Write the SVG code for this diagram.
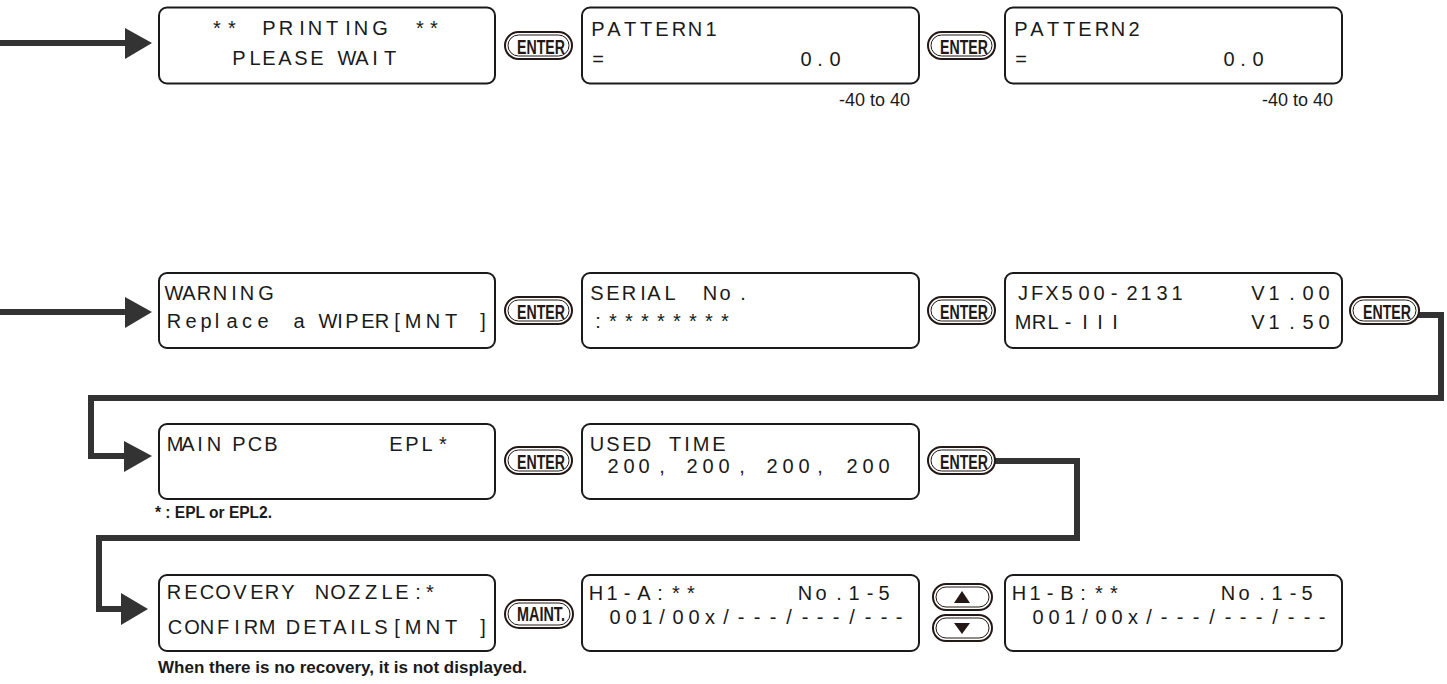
<svg xmlns="http://www.w3.org/2000/svg" width="1447" height="684" viewBox="0 0 1447 684">
<defs>
<style>
.box{fill:#fff;stroke:#1a1a1a;stroke-width:2}
.lcd{font-family:"Liberation Sans Narrow","Liberation Sans",Arial,sans-serif;font-size:20px;fill:#1a1a1a;text-anchor:middle}
.rng{font-family:"Liberation Sans Narrow","Liberation Sans",Arial,sans-serif;font-size:18px;fill:#1a1a1a;text-anchor:end}
.note{font-family:"Liberation Sans Narrow","Liberation Sans",Arial,sans-serif;font-size:16px;font-weight:bold;fill:#1a1a1a}
.bo{fill:#fff;stroke:#231815;stroke-width:2}
.bi{fill:none;stroke:#231815;stroke-width:1}
.bt{font-family:"Liberation Sans Narrow","Liberation Sans",Arial,sans-serif;font-size:21px;font-weight:bold;fill:#231815;text-anchor:middle}
.tri{fill:#231815}
.conn{fill:none;stroke:#333;stroke-width:6}
.head{fill:#333}
</style>
</defs>
<rect width="1447" height="684" fill="#fff"/>

<g id="connectors">
<path class="conn" d="M0,43 H128"/>
<polygon class="head" points="125,28 152,43 125,59"/>
<path class="conn" d="M0,312 H128"/>
<polygon class="head" points="125,297 152,312 125,328"/>
<path class="conn" d="M1418,315 H1441 V398 H91 V456 H128"/>
<polygon class="head" points="124,441 152,456 124,472"/>
<path class="conn" d="M995,461 H1077 V538 H99 V609 H124"/>
<polygon class="head" points="121,593 148,609 121,625"/>
</g>

<!-- Row 1 -->
<g id="n-printing">
<rect class="box" x="159" y="7.5" width="336" height="76" rx="8"/>
<text class="lcd" xml:space="preserve" y="35" x="217 232 250 269 286 302 315 332 348 361 380 400 420 434">** PRINTING **</text>
<text class="lcd" xml:space="preserve" y="65" x="239 255 269 285 301 317 332 347 362 375 390">PLEASE WAIT</text>
</g>
<g id="btn-enter-1" transform="translate(505,32)">
<rect class="bo" x="0" y="0" width="67" height="27" rx="13.5"/>
<rect class="bi" x="3" y="3" width="61" height="21" rx="10.5"/>
<text class="bt" x="36" y="22" textLength="48" lengthAdjust="spacingAndGlyphs">ENTER</text>
</g>
<g id="n-pattern1">
<rect class="box" x="582" y="7.5" width="337" height="76" rx="8"/>
<text class="lcd" y="36" x="598 614 630 646 662 679 695 711">PATTERN1</text>
<text class="lcd" xml:space="preserve" y="66" x="598 700 806 820 835">= 0.0</text>
<text class="rng" x="910" y="106">-40 to 40</text>
</g>
<g id="btn-enter-2" transform="translate(928,32)">
<rect class="bo" x="0" y="0" width="67" height="27" rx="13.5"/>
<rect class="bi" x="3" y="3" width="61" height="21" rx="10.5"/>
<text class="bt" x="36" y="22" textLength="48" lengthAdjust="spacingAndGlyphs">ENTER</text>
</g>
<g id="n-pattern2">
<rect class="box" x="1005" y="7.5" width="337" height="76" rx="8"/>
<text class="lcd" y="36" x="1021 1037 1053 1069 1085 1102 1118 1134">PATTERN2</text>
<text class="lcd" xml:space="preserve" y="66" x="1021 1123 1229 1243 1258">= 0.0</text>
<text class="rng" x="1333" y="106">-40 to 40</text>
</g>

<!-- Row 2 -->
<g id="n-warning">
<rect class="box" x="159" y="273" width="336" height="75" rx="8"/>
<text class="lcd" y="300" x="174 189 204 220 234 247 266">WARNING</text>
<text class="lcd" xml:space="preserve" y="328" x="174 191 206 217 232 247 263 281 299 313 328 340 352 368 382 397 413 433 451 483">Replace a WIPER[MNT]</text>
</g>
<g id="btn-enter-3" transform="translate(505,297)">
<rect class="bo" x="0" y="0" width="67" height="27" rx="13.5"/>
<rect class="bi" x="3" y="3" width="61" height="21" rx="10.5"/>
<text class="bt" x="36" y="22" textLength="48" lengthAdjust="spacingAndGlyphs">ENTER</text>
</g>
<g id="n-serial">
<rect class="box" x="582" y="273" width="337" height="75" rx="8"/>
<text class="lcd" xml:space="preserve" y="300" x="597 613 629 643 654 670 690 710 725 743">SERIAL No.</text>
<text class="lcd" y="328" x="598 613 629 645 661 677 693 709 725">:********</text>
</g>
<g id="btn-enter-4" transform="translate(928,297)">
<rect class="bo" x="0" y="0" width="67" height="27" rx="13.5"/>
<rect class="bi" x="3" y="3" width="61" height="21" rx="10.5"/>
<text class="bt" x="36" y="22" textLength="48" lengthAdjust="spacingAndGlyphs">ENTER</text>
</g>
<g id="n-version">
<rect class="box" x="1005" y="273" width="337" height="75" rx="8"/>
<text class="lcd" xml:space="preserve" y="300" x="1023 1037 1052 1067 1084 1099 1114 1132 1146 1162 1177 1215 1258 1274 1292 1308 1324">JFX500-2131 V1.00</text>
<text class="lcd" xml:space="preserve" y="329" x="1023 1039 1053 1068 1085 1100 1115 1190 1258 1274 1292 1308 1324">MRL-III V1.50</text>
</g>
<g id="btn-enter-5" transform="translate(1350,297)">
<rect class="bo" x="0" y="0" width="69" height="27" rx="13.5"/>
<rect class="bi" x="3" y="3" width="63" height="21" rx="10.5"/>
<text class="bt" x="37" y="22" textLength="48" lengthAdjust="spacingAndGlyphs">ENTER</text>
</g>

<!-- Row 3 -->
<g id="n-mainpcb">
<rect class="box" x="159" y="424" width="336" height="75" rx="8"/>
<text class="lcd" xml:space="preserve" y="451" x="175 188 200 214 227 239 255 271 330 396 412 427 443">MAIN PCB EPL*</text>
<text class="note" x="155" y="518" textLength="117" lengthAdjust="spacingAndGlyphs">* : EPL or EPL2.</text>
</g>
<g id="btn-enter-6" transform="translate(505,447)">
<rect class="bo" x="0" y="0" width="67" height="27" rx="13.5"/>
<rect class="bi" x="3" y="3" width="61" height="21" rx="10.5"/>
<text class="bt" x="36" y="22" textLength="48" lengthAdjust="spacingAndGlyphs">ENTER</text>
</g>
<g id="n-usedtime">
<rect class="box" x="582" y="424" width="337" height="75" rx="8"/>
<text class="lcd" xml:space="preserve" y="451" x="597 613 629 644 660 675 687 701 719">USED TIME</text>
<text class="lcd" xml:space="preserve" y="473" x="613 629 644 662 677 692 708 724 742 757 772 788 804 820 836 852 868 884">200, 200, 200, 200</text>
</g>
<g id="btn-enter-7" transform="translate(928,447)">
<rect class="bo" x="0" y="0" width="67" height="27" rx="13.5"/>
<rect class="bi" x="3" y="3" width="61" height="21" rx="10.5"/>
<text class="bt" x="36" y="22" textLength="48" lengthAdjust="spacingAndGlyphs">ENTER</text>
</g>

<!-- Row 4 -->
<g id="n-recovery">
<rect class="box" x="159" y="575" width="336" height="76" rx="8"/>
<text class="lcd" xml:space="preserve" y="599" x="174 191 207 223 240 257 272 288 305 322 338 354 371 387 402 418 430">RECOVERY NOZZLE:*</text>
<text class="lcd" xml:space="preserve" y="634" x="175 192 207 223 237 251 267 280 293 310 325 340 353 365 381 397 413 433 451 483">CONFIRM DETAILS[MNT]</text>
<text class="note" x="158" y="673" textLength="369" lengthAdjust="spacingAndGlyphs">When there is no recovery, it is not displayed.</text>
</g>
<g id="btn-maint" transform="translate(505,600)">
<rect class="bo" x="0" y="0" width="68" height="28" rx="14"/>
<rect class="bi" x="3" y="3" width="62" height="22" rx="11"/>
<text class="bt" x="36" y="21" font-size="18" textLength="48" lengthAdjust="spacingAndGlyphs">MAINT.</text>
</g>
<g id="n-h1a">
<rect class="box" x="582" y="575" width="337" height="76" rx="8"/>
<text class="lcd" xml:space="preserve" y="600" x="596 612 627 644 660 676 691 747 805 821 839 854 870 884">H1-A:** No.1-5</text>
<text class="lcd" y="624" x="615 631 647 662 678 694 710 726 741 757 773 789 805 820 836 852 868 884 899">001/00x/---/---/---</text>
</g>
<g id="btn-updown">
<rect class="bo" x="933" y="584" width="59" height="26" rx="13"/>
<rect class="bi" x="936" y="587" width="53" height="20" rx="10"/>
<polygon class="tri" points="962,591 970,603 954,603"/>
<rect class="bo" x="933" y="615" width="59" height="26" rx="13"/>
<rect class="bi" x="936" y="618" width="53" height="20" rx="10"/>
<polygon class="tri" points="954,623 970,623 962,634"/>
</g>
<g id="n-h1b">
<rect class="box" x="1005" y="575" width="337" height="76" rx="8"/>
<text class="lcd" xml:space="preserve" y="600" x="1019 1035 1050 1067 1083 1099 1114 1170 1228 1244 1262 1277 1293 1307">H1-B:** No.1-5</text>
<text class="lcd" y="624" x="1038 1054 1070 1085 1101 1117 1133 1149 1164 1180 1196 1212 1228 1243 1259 1275 1291 1307 1322">001/00x/---/---/---</text>
</g>
</svg>
